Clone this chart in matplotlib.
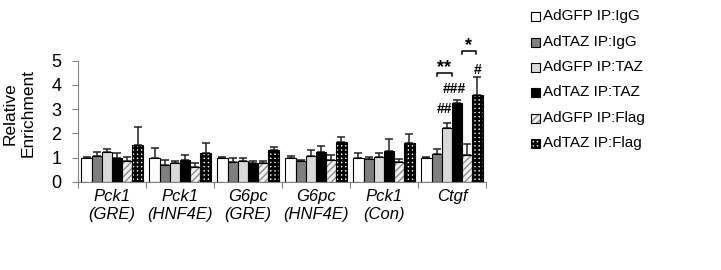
import matplotlib
matplotlib.use("Agg")
import matplotlib.pyplot as plt
import numpy as np
from matplotlib.patches import Rectangle

plt.rcParams['font.family'] = ['Liberation Sans', 'DejaVu Sans']

groups = ["Pck1\n(GRE)", "Pck1\n(HNF4E)", "G6pc\n(GRE)", "G6pc\n(HNF4E)", "Pck1\n(Con)", "Ctgf"]
series_names = ["AdGFP IP:IgG", "AdTAZ IP:IgG", "AdGFP IP:TAZ", "AdTAZ IP:TAZ", "AdGFP IP:Flag", "AdTAZ IP:Flag"]

gfp_igg = [1.0, 1.0, 1.0, 1.0, 1.0, 1.0]
taz_igg = [1.07, 0.69, 0.83, 0.87, 0.96, 1.17]
gfp_taz = [1.25, 0.79, 0.85, 1.06, 1.03, 2.22]
taz_taz = [1.0, 0.9, 0.78, 1.22, 1.26, 3.27]
gfp_flag = [0.88, 0.62, 0.77, 0.92, 0.84, 1.1]
taz_flag = [1.52, 1.2, 1.33, 1.63, 1.62, 3.6]

gfp_igg_err = [0.02, 0.4, 0.02, 0.07, 0.21, 0.03]
taz_igg_err = [0.15, 0.21, 0.14, 0.02, 0.07, 0.17]
gfp_taz_err = [0.1, 0.07, 0.13, 0.26, 0.15, 0.22]
taz_taz_err = [0.18, 0.23, 0.1, 0.26, 0.5, 0.1]
gfp_flag_err = [0.16, 0.16, 0.1, 0.18, 0.09, 0.48]
taz_flag_err = [0.76, 0.4, 0.11, 0.22, 0.37, 0.74]

values = [gfp_igg, taz_igg, gfp_taz, taz_taz, gfp_flag, taz_flag]
errors = [gfp_igg_err, taz_igg_err, gfp_taz_err, taz_taz_err, gfp_flag_err, taz_flag_err]

# styles: (facecolor, hatch, hatchcolor, hatch linewidth)
styles = [
    ("white", None, None, None),
    ("#7f7f7f", None, None, None),
    ("#d9d9d9", None, None, None),
    ("black", None, None, None),
    ("#f2f2f2", "/////", "#8c8c8c", 1.0),
    ("white", "++++", "black", 1.9),
]

fig = plt.figure(figsize=(7.21, 2.70), dpi=100)
ax = fig.add_axes([78/721, (270-182)/270, (486-78)/721, (182-60.7)/270])

bw = 0.15
x = np.arange(len(groups))
for k, (vals, errs, (fc, hatch, hc, hlw)) in enumerate(zip(values, errors, styles)):
    pos = x + (k - 2.5) * bw
    if hatch is None:
        ax.bar(pos, vals, width=bw, color=fc, edgecolor="black", linewidth=0.8, zorder=2)
    else:
        with plt.rc_context({'hatch.linewidth': hlw}):
            bars = ax.bar(pos, vals, width=bw, color=fc, edgecolor=hc, hatch=hatch, linewidth=0, zorder=2)
        for b in bars:
            if hasattr(b, "set_hatch_linewidth"):
                b.set_hatch_linewidth(hlw)
        ax.bar(pos, vals, width=bw, fill=False, edgecolor="black", linewidth=0.8, zorder=3)
    ax.errorbar(pos, vals, yerr=[np.zeros(len(vals)), errs], fmt="none", ecolor="#222222",
                elinewidth=1.1, capsize=3, capthick=1.1, zorder=1)

ax.set_xlim(-0.5, 5.5)
ax.set_ylim(0, 5)
ax.set_yticks([0, 1, 2, 3, 4, 5])
ax.tick_params(axis="y", labelsize=13, length=4, color="#808080", width=0.8, pad=8)
ax.set_xticks(np.arange(-0.5, 6.0, 1.0))
ax.set_xticklabels([])
ax.tick_params(axis="x", which="major", length=4, color="#808080", width=0.8, direction="out")
ax.set_xticks(x, minor=True)
ax.set_xticklabels(groups, minor=True, fontsize=12, fontstyle="italic", linespacing=1.25)
ax.tick_params(axis="x", which="minor", length=0, pad=5)
for side in ["top", "right"]:
    ax.spines[side].set_visible(False)
for side in ["left", "bottom"]:
    ax.spines[side].set_color("#808080")
    ax.spines[side].set_linewidth(0.8)

ax.set_ylabel("Relative\nEnrichment", fontsize=12.5, linespacing=1.2)
ax.yaxis.set_label_coords(-0.105, 0.565)

# significance annotations (Ctgf group)
g = 5
def bracket(x0, x1, ytop, ydrop, text, ty):
    ax.plot([x0, x0, x1, x1], [ytop - ydrop, ytop, ytop, ytop - ydrop], color="black",
            lw=1.1, clip_on=False, zorder=4)
    ax.text((x0 + x1) / 2, ty, text, ha="center", va="center", fontsize=13,
            fontweight="bold", clip_on=False)

bracket(g - 0.225, g + 0.0, 4.5, 0.13, "**", 4.7)
bracket(g + 0.143, g + 0.353, 5.41, 0.14, "*", 5.62)
ax.text(g - 0.115, 3.0, "##", ha="center", va="center", fontsize=10, fontweight="bold")
ax.text(g + 0.03, 3.82, "###", ha="center", va="center", fontsize=10, fontweight="bold")
ax.text(g + 0.38, 4.6, "#", ha="center", va="center", fontsize=10, fontweight="bold")

# legend (manual, figure pixel coordinates)
W, H = 721, 270
leg_y = [16, 42, 67, 92, 118, 143]
for name, (fc, hatch, hc, hlw), yy in zip(series_names, styles, leg_y):
    sz = 9
    x0 = 531
    if hatch is None:
        r = Rectangle((x0 / W, (H - yy - sz / 2) / H), sz / W, sz / H, transform=fig.transFigure,
                      facecolor=fc, edgecolor="black", linewidth=0.8)
        fig.add_artist(r)
    else:
        with plt.rc_context({'hatch.linewidth': hlw}):
            r1 = Rectangle((x0 / W, (H - yy - sz / 2) / H), sz / W, sz / H, transform=fig.transFigure,
                           facecolor=fc, edgecolor=hc, hatch=hatch, linewidth=0)
        if hasattr(r1, "set_hatch_linewidth"):
            r1.set_hatch_linewidth(hlw)
        r2 = Rectangle((x0 / W, (H - yy - sz / 2) / H), sz / W, sz / H, transform=fig.transFigure,
                       fill=False, edgecolor="black", linewidth=0.8)
        fig.add_artist(r1)
        fig.add_artist(r2)
    fig.text(543 / W, (H - yy) / H, name, fontsize=11, va="center", ha="left")

fig.savefig("out.png", dpi=100)
